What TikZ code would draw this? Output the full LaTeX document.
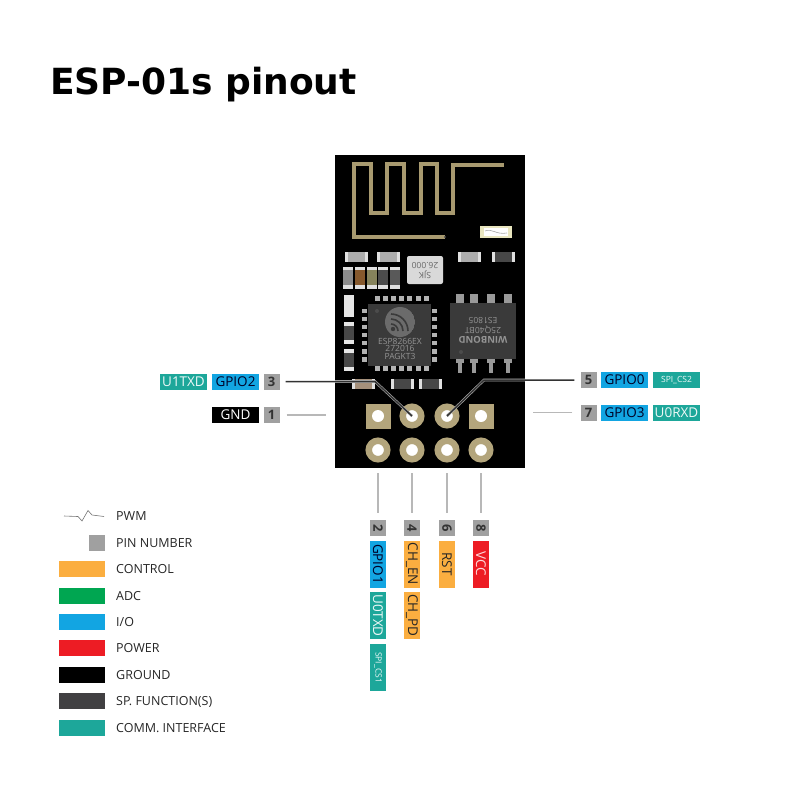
\documentclass[tikz,border=0pt]{standalone}
\usepackage{fontspec}
\setmainfont{Open Sans}
\newfontfamily\titlefont{DejaVu Sans}

\definecolor{ctrlorange}{HTML}{FBAE40}
\definecolor{adcgreen}{HTML}{00A651}
\definecolor{iocyan}{HTML}{12A5E2}
\definecolor{powerred}{HTML}{ED1C24}
\definecolor{spdark}{HTML}{414042}
\definecolor{commteal}{HTML}{1DA79A}
\definecolor{pingrey}{HTML}{A0A0A0}
\definecolor{padgold}{HTML}{B3A57C}
\definecolor{tracegold}{HTML}{A89A70}
\definecolor{icgrey}{HTML}{3A3A3A}

\tikzset{
    pinbox/.style={minimum width=47pt, minimum height=16pt, inner sep=0pt, font=\fontsize{13.5}{14}\selectfont},
    iobox/.style={pinbox, fill=iocyan, text=black!85!blue},
    commbox/.style={pinbox, fill=commteal, text=white!92!commteal},
    smallcomm/.style={commbox, font=\fontsize{8.5}{9}\selectfont},
    ctrlbox/.style={pinbox, fill=ctrlorange, text=black!85},
    numbox/.style={minimum width=16pt, minimum height=16pt, inner sep=0pt, fill=pingrey, text=black!80, font=\fontsize{13}{13}\selectfont\bfseries},
    swatch/.style={minimum width=46pt, minimum height=16pt, inner sep=0pt},
    legendtext/.style={anchor=west, inner sep=0pt, text=black!85, font=\fontsize{12.5}{13}\selectfont},
    padround/.style={circle, draw=padgold, fill=white, line width=6.5pt, minimum size=18.5pt, inner sep=0pt},
    padsquare/.style={rectangle, fill=padgold, minimum size=25pt, inner sep=0pt},
    leadline/.style={draw=black!28, line width=1.1pt},
    liveline/.style={draw=black!80, line width=1.5pt},
    icmark/.style={inner sep=0pt, text=black!42, font=\fontsize{8.5}{9}\selectfont}
}

\begin{document}
\begin{tikzpicture}[x=1pt, y=-1pt]
    \useasboundingbox (0, 0) rectangle (800, 800);

    % Title
    \node[anchor=base west, inner sep=0pt, font=\fontsize{36}{36}\selectfont\titlefont\bfseries] (title) at (50, 94) {ESP-01s pinout};

    % Board
    \fill[black] (335, 155) rectangle (525, 468);

    % Antenna trace
    \draw[tracegold, line width=4.6pt, line join=miter] (445, 237) -- (354, 237) -- (354, 164) -- (371, 164) -- (371, 213) -- (387, 213) -- (387, 164) -- (404, 164) -- (404, 213) -- (421, 213) -- (421, 164) -- (437, 164) -- (437, 213) -- (453, 213) -- (453, 165) -- (504, 165);
    \fill[black!70] (445, 237) circle (1.2);

    % Small part near the antenna
    \fill[white!80!yellow!90!black] (480, 226) rectangle (512, 238);
    \fill[white] (484, 228) rectangle (508, 236);
    \draw[black!35, line width=0.6pt] (485, 231) .. controls (492, 228) and (496, 235) .. (507, 233);

    % Resistors on top
    \foreach \xa/\col in {345/black!32, 377/black!32, 458/black!32, 492/black!72} {
        \fill[black!12] (\xa, 252) rectangle ++(23, 10);
        \fill[\col] (\xa+3, 252) rectangle ++(17, 10);
    }
    \foreach \xa/\col in {343/black!45, 355/brown!70!black, 367/olive!45!black!70, 378/black!70, 390/black!65} {
        \fill[black!12] (\xa, 267) rectangle ++(10, 22);
        \fill[\col] (\xa, 270) rectangle ++(10, 15);
    }

    % Crystal
    \fill[black!15, rounded corners=2pt] (407, 256) rectangle (443, 284);
    \node[rotate=180, inner sep=0pt, text=black!60, font=\fontsize{8.5}{9}\selectfont] (xtaltop) at (425, 266) {26.000};
    \node[rotate=180, inner sep=0pt, text=black!60, font=\fontsize{8.5}{9}\selectfont] (xtalbot) at (425, 275) {SJK};

    % Left column parts
    \fill[black!10] (344, 295) rectangle (354, 317);
    \foreach \ya in {322, 349} {
        \fill[black!10] (344, \ya) rectangle ++(10, 22);
        \fill[black!72] (344, \ya+4) rectangle ++(10, 14);
    }

    % ESP chip
    \fill[icgrey] (368, 304) rectangle (431, 366);
    \foreach \i in {0,...,6} {
        \fill[black!30] (375+\i*8.1, 296) rectangle ++(5, 5);
        \fill[black!30] (375+\i*8.1, 366) rectangle ++(5, 5);
        \fill[black!30] (362, 308.5+\i*8.1) rectangle ++(5, 4.5);
        \fill[black!30] (432, 308.5+\i*8.1) rectangle ++(5, 4.5);
    }
    \begin{scope}
        \clip (400, 322) circle (15);
        \fill[black!58] (400, 322) circle (15);
        \draw[icgrey, line width=1.6pt] (391, 324) arc[start angle=-90, delta angle=90, radius=7];
        \draw[icgrey, line width=1.6pt] (391, 319) arc[start angle=-90, delta angle=90, radius=12];
        \draw[icgrey, line width=1.6pt] (391, 314) arc[start angle=-90, delta angle=90, radius=17];
        \fill[icgrey] (393, 329) circle (2.2);
    \end{scope}
    \fill[black!70] (377, 311) circle (2);
    \node[icmark] (chipa) at (400, 341.5) {ESP8266EX};
    \node[icmark] (chipb) at (400, 348.5) {272016};
    \node[icmark] (chipc) at (400, 356) {PAGKT3};

    % Flash chip
    \foreach \xa in {456, 470, 487, 504} {
        \fill[black!40] (\xa, 294) rectangle ++(8, 10);
        \fill[black!40] (\xa, 359) rectangle ++(8, 4);
        \fill[black!40] (\xa+2, 363) rectangle ++(4, 10);
    }
    \fill[icgrey] (450, 303) rectangle (516, 359);
    \fill[black!70] (461, 352) circle (2);
    \node[icmark, rotate=180, font=\fontsize{9.5}{10}\selectfont\bfseries] (flasha) at (483, 340) {WINBOND};
    \node[icmark, rotate=180] (flashb) at (483, 330) {25Q40BT};
    \node[icmark, rotate=180] (flashc) at (483, 321) {ES1805};

    % Lower row of parts
    \foreach \xa/\col in {352/brown!55!black!60, 391/black!72, 419/black!72} {
        \fill[black!12] (\xa, 379) rectangle ++(23, 10);
        \fill[\col] (\xa+3, 379) rectangle ++(17, 10);
    }

    % Pads
    \node[padsquare] (pad1) at (378, 416) {};
    \fill[white] (pad1.center) circle (6);
    \node[padround] (pad3) at (412, 416) {};
    \node[padround] (pad5) at (447, 416) {};
    \node[padsquare] (pad7) at (481, 416) {};
    \fill[white] (pad7.center) circle (6);
    \node[padround] (pad2) at (378, 450) {};
    \node[padround] (pad4) at (412, 450) {};
    \node[padround] (pad6) at (447, 450) {};
    \node[padround] (pad8) at (481, 450) {};

    % Left labels
    \node[commbox] (u1txd) at (183.5, 381.5) {U1TXD};
    \node[iobox] (gpio2) at (235.5, 381.5) {GPIO2};
    \node[numbox] (num3) at (271.5, 381.5) {3};
    \node[pinbox, fill=black, text=white] (gnd) at (235.5, 415) {GND};
    \node[numbox] (num1) at (271.5, 415) {1};

    % Right labels
    \node[numbox] (num5) at (588.5, 380) {5};
    \node[iobox] (gpio0) at (624.5, 380) {GPIO0};
    \node[smallcomm] (spics2) at (676.5, 380) {SPI\_CS2};
    \node[numbox] (num7) at (588.5, 412.5) {7};
    \node[iobox] (gpio3) at (624.5, 412.5) {GPIO3};
    \node[commbox] (u0rxd) at (676.5, 412.5) {U0RXD};

    % Bottom labels
    \node[numbox, rotate=-90] (num2) at (378, 528) {2};
    \node[iobox, rotate=-90] (gpio1) at (378, 564) {GPIO1};
    \node[commbox, rotate=-90] (u0txd) at (378, 615.5) {U0TXD};
    \node[smallcomm, rotate=-90] (spics1) at (378, 667.5) {SPI\_CS1};
    \node[numbox, rotate=-90] (num4) at (412, 528) {4};
    \node[ctrlbox, rotate=-90] (chen) at (412, 564) {CH\_EN};
    \node[ctrlbox, rotate=-90] (chpd) at (412, 615.5) {CH\_PD};
    \node[numbox, rotate=-90] (num6) at (447, 528) {6};
    \node[ctrlbox, rotate=-90] (rst) at (447, 564) {RST};
    \node[numbox, rotate=-90] (num8) at (481, 528) {8};
    \node[pinbox, fill=powerred, text=white!85!red, rotate=-90] (vcc) at (481, 564) {VCC};

    % Connectors
    \coordinate (bend3) at (375, 381.5);
    \coordinate (bend5) at (484, 380);
    \begin{scope}
        \clip (335, 155) rectangle (525, 468);
        \draw[black!30, line width=2.6pt] (num3.east) -- (bend3) -- (pad3.center);
        \draw[black!30, line width=2.6pt] (num5.west) -- (bend5) -- (pad5.center);
    \end{scope}
    \draw[liveline, shorten <=6pt] (num3.east) -- (bend3) -- (pad3.center);
    \draw[liveline, shorten <=6pt] (num5.west) -- (bend5) -- (pad5.center);
    \draw[leadline, shorten <=7pt, shorten >=39pt] (num1.east) -- (num1.east -| pad1.west);
    \draw[leadline, shorten <=8pt, shorten >=39pt] (num7.west) -- (num7.west -| pad7.east);
    \draw[leadline, shorten <=10.5pt, shorten >=7pt] (pad2.south) -- (num2.west);
    \draw[leadline, shorten <=10.5pt, shorten >=7pt] (pad4.south) -- (num4.west);
    \draw[leadline, shorten <=10.5pt, shorten >=7pt] (pad6.south) -- (num6.west);
    \draw[leadline, shorten <=10.5pt, shorten >=7pt] (pad8.south) -- (num8.west);

    % Legend
    \coordinate (pwmleft) at (64, 516);
    \coordinate (pwmright) at (104, 516.5);
    \draw[black!55, line width=0.6pt] (pwmleft) -- (78, 516.5) -- (82, 521) -- (88, 510.5) -- (92, 515) -- (pwmright);
    \node[legendtext] (lpwm) at (116, 516.5) {PWM};
    \node[minimum width=16pt, minimum height=16pt, inner sep=0pt, fill=pingrey] (spin) at (97, 543) {};
    \node[legendtext] (lpin) at (116, 543) {PIN NUMBER};
    \node[swatch, fill=ctrlorange] (sctrl) at (82, 569) {};
    \node[legendtext] (lctrl) at (116, 569.5) {CONTROL};
    \node[swatch, fill=adcgreen] (sadc) at (82, 595.5) {};
    \node[legendtext] (ladc) at (116, 596) {ADC};
    \node[swatch, fill=iocyan] (sio) at (82, 622) {};
    \node[legendtext] (lio) at (116, 622.5) {I/O};
    \node[swatch, fill=powerred] (spower) at (82, 648) {};
    \node[legendtext] (lpower) at (116, 648.5) {POWER};
    \node[swatch, fill=black] (sground) at (82, 675) {};
    \node[legendtext] (lground) at (116, 675.5) {GROUND};
    \node[swatch, fill=spdark] (ssp) at (82, 701) {};
    \node[legendtext] (lsp) at (116, 701.5) {SP. FUNCTION(S)};
    \node[swatch, fill=commteal] (scomm) at (82, 728) {};
    \node[legendtext] (lcomm) at (116, 728.5) {COMM. INTERFACE};
\end{tikzpicture}
\end{document}
